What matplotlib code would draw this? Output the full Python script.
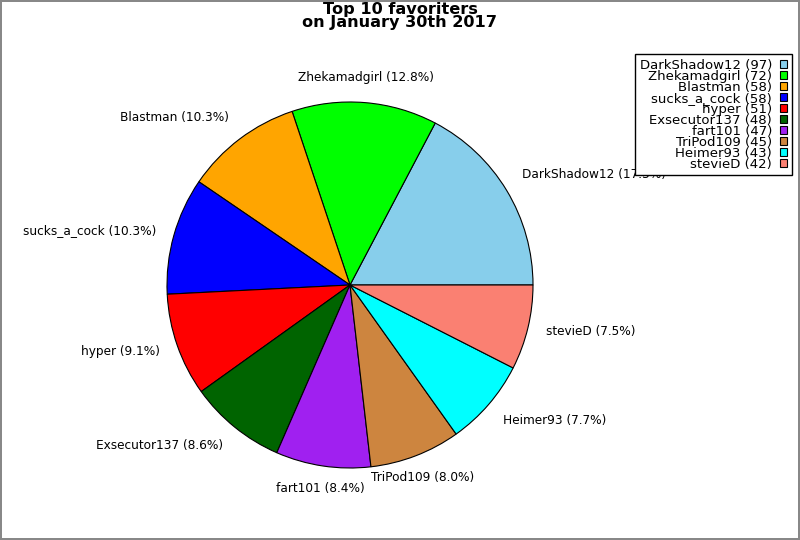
import math
import matplotlib
matplotlib.use('Agg')
import matplotlib.pyplot as plt

names = ['DarkShadow12', 'Zhekamadgirl', 'Blastman', 'sucks_a_cock', 'hyper',
         'Exsecutor137', 'fart101', 'TriPod109', 'Heimer93', 'stevieD']
counts = [97, 72, 58, 58, 51, 48, 47, 45, 43, 42]
colors = ['skyblue', 'lime', 'orange', 'blue', 'red',
          'darkgreen', '#a020f0', 'peru', 'cyan', 'salmon']

total = sum(counts)
labels = ['%s (%.1f%%)' % (n, 100.0 * c / total) for n, c in zip(names, counts)]
legend_labels = ['%s (%d)' % (n, c) for n, c in zip(names, counts)]

fig = plt.figure(figsize=(8, 5.4), dpi=100)
fig.patch.set_edgecolor('#888888')
fig.patch.set_linewidth(1.5)

# pie centre at (350, 285) px, radius about 183 px
r = 183.0
half = 1.25 * r
ax = fig.add_axes([(350 - half) / 800, (540 - 285 - half) / 540, 2 * half / 800, 2 * half / 540])
wedges, texts = ax.pie(counts, labels=labels, colors=colors, startangle=0,
                       counterclock=True, labeldistance=1.1,
                       wedgeprops={'edgecolor': 'black', 'linewidth': 0.8},
                       textprops={'fontsize': 8.7})
ax.set_xlim(-1.25, 1.25)
ax.set_ylim(-1.25, 1.25)
ax.set_aspect('equal')
ax.axis('off')

# labels near the top/bottom are centred, side ones hang off the wedge
for t in texts:
    x, y = t.get_position()
    a = math.atan2(y, x)
    c, s = math.cos(a), math.sin(a)
    if abs(c) < 0.5:
        t.set_ha('center')
    else:
        t.set_ha('left' if c > 0 else 'right')
    if s > 0.5:
        t.set_va('bottom')
    elif s < -0.5:
        t.set_va('top')
        t.set_y(y + 2.0 / r)
    else:
        t.set_va('center')

fig.suptitle('Top 10 favoriters\non January 30th 2017', fontsize=11.6,
             fontweight='bold', y=0.997, va='top', linespacing=0.9)

leg = fig.legend(wedges, legend_labels, loc='upper right',
                 bbox_to_anchor=(792 / 800, 1 - 54 / 540), markerfirst=False,
                 fancybox=False, edgecolor='black', framealpha=1,
                 fontsize=9.5, labelspacing=-0.15, handlelength=0.55, handleheight=0.55,
                 handletextpad=0.6, borderpad=0.35, borderaxespad=0)
leg.get_frame().set_linewidth(1)
for t in leg.get_texts():
    t.set_ha('right')
leg._legend_box.align = 'right'

fig.savefig('out.png', dpi=100, edgecolor=fig.get_edgecolor())
